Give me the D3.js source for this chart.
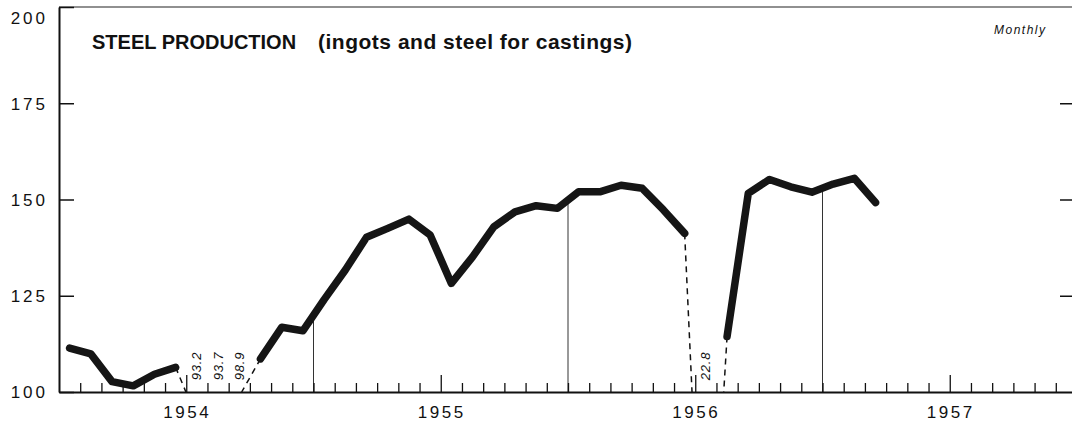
<!DOCTYPE html>
<html>
<head>
<meta charset="utf-8">
<script src="https://cdn.jsdelivr.net/npm/d3@7"></script>
<style>
  body { margin: 0; background: #fff; }
  text { font-family: "Liberation Sans", Arial, sans-serif; fill: #111; }
</style>
</head>
<body>
<svg id="chart"></svg>
<script>
const months = [
  "1954-01", "1954-02", "1954-03", "1954-04", "1954-05", "1954-06",
  "1954-07", "1954-08", "1954-09", "1954-10", "1954-11", "1954-12",
  "1955-01", "1955-02", "1955-03", "1955-04", "1955-05", "1955-06",
  "1955-07", "1955-08", "1955-09", "1955-10", "1955-11", "1955-12",
  "1956-01", "1956-02", "1956-03", "1956-04", "1956-05", "1956-06",
  "1956-07", "1956-08", "1956-09", "1956-10", "1956-11", "1956-12",
  "1957-01", "1957-02", "1957-03"
];
const steel = [
  111.4, 109.9, 102.7, 101.6, 104.6, 106.4,
  93.2, 93.7, 98.9, 108.6, 116.8, 115.9,
  124.0, 131.7, 140.2, 142.5, 144.9, 140.8,
  128.2, 135.1, 142.9, 146.8, 148.4, 147.7,
  152.0, 152.0, 153.7, 152.9, 147.3, 141.2,
  22.8, 114.4, 151.6, 155.2, 153.3, 151.9,
  154.0, 155.5, 149.2
];
const years = ["1954", "1955", "1956", "1957"];
const yTicks = [100, 125, 150, 175, 200];
const sideTicks = [125, 150, 175];
const title = "STEEL PRODUCTION";
const subtitle = "(ingots and steel for castings)";
const freq = "Monthly";

const W = 1072, H = 422;
const mLeft = 59, mRight = 1077, mTop = 7, mBottom = 392;
const floor = 100;

const svg = d3.select("#chart").attr("width", W).attr("height", H);
svg.append("rect").attr("width", W).attr("height", H).attr("fill", "#fff");

// month slots: 0 = Jan 1954 ... 48 = Jan 1958
const x = d3.scaleLinear().domain([0, 48]).range([mLeft, mRight]);
const y = d3.scaleLinear().domain([100, 200]).range([mBottom, mTop]);

const firstYear = +years[0];
const pts = months.map((m, i) => {
  const [yr, mo] = m.split("-").map(Number);
  return { idx: (yr - firstYear) * 12 + mo - 1, v: steel[i] };
});
const px = d => x(d.idx + 0.5);

// top border
svg.append("line")
  .attr("x1", mLeft).attr("x2", W).attr("y1", mTop).attr("y2", mTop)
  .attr("stroke", "#222").attr("stroke-width", 1.2);

// year boundary drop lines up to the curve
for (let b = 12; b < 48; b += 12) {
  for (let i = 0; i < pts.length - 1; i++) {
    const a = pts[i], c = pts[i + 1];
    if (a.idx + 0.5 < b && c.idx + 0.5 > b && a.v >= floor && c.v >= floor) {
      const t = (b - a.idx - 0.5) / (c.idx - a.idx);
      const v = a.v + t * (c.v - a.v);
      svg.append("line")
        .attr("x1", x(b)).attr("x2", x(b))
        .attr("y1", y(floor)).attr("y2", y(v))
        .attr("stroke", "#333").attr("stroke-width", 1);
    }
  }
}

// x axis
const xAxis = d3.axisBottom(x)
  .tickValues(d3.range(1, 48))
  .tickSize(-9)
  .tickSizeOuter(0)
  .tickFormat("");
const gx = svg.append("g")
  .attr("transform", `translate(0, ${mBottom})`)
  .call(xAxis);
gx.select(".domain").attr("stroke", "#111").attr("stroke-width", 2);
gx.selectAll(".tick line")
  .attr("stroke", "#111").attr("stroke-width", 1.3)
  .attr("y2", d => d % 12 === 6 ? -17 : -9);

svg.selectAll(".year")
  .data(years)
  .join("text")
  .attr("class", "year")
  .attr("x", (d, i) => x(i * 12 + 6) + 1)
  .attr("y", 418)
  .attr("text-anchor", "middle")
  .attr("font-size", 17)
  .attr("letter-spacing", 2.5)
  .text(d => d);

// y axis
const yAxis = d3.axisLeft(y)
  .tickValues(yTicks)
  .tickSize(-15)
  .tickSizeOuter(0)
  .tickPadding(11)
  .tickFormat(d3.format("d"));
const gy = svg.append("g")
  .attr("transform", `translate(${mLeft}, 0)`)
  .call(yAxis);
gy.select(".domain").attr("stroke", "#111").attr("stroke-width", 2);
gy.selectAll(".tick line").attr("stroke", "#111").attr("stroke-width", 1.5);
gy.selectAll(".tick text")
  .attr("font-size", 17)
  .attr("letter-spacing", 3)
  .attr("fill", "#111")
  .attr("font-family", "Liberation Sans, Arial, sans-serif")
  .attr("dy", d => d === 200 ? "0.95em" : "0.35em");

const gr = svg.append("g")
  .attr("transform", `translate(${W}, 0)`)
  .call(d3.axisRight(y).tickValues(sideTicks).tickSize(-12).tickFormat(""));
gr.select(".domain").remove();
gr.selectAll(".tick line").attr("stroke", "#111").attr("stroke-width", 1.5);

// dashed links to off-scale months
for (let i = 0; i < pts.length - 1; i++) {
  const a = pts[i], c = pts[i + 1];
  if ((a.v >= floor) !== (c.v >= floor)) {
    const good = a.v >= floor ? a : c;
    const bad = a.v >= floor ? c : a;
    const t = (good.v - floor) / (good.v - bad.v);
    const xc = px(good) + t * (px(bad) - px(good));
    svg.append("line")
      .attr("x1", px(good)).attr("y1", y(good.v))
      .attr("x2", xc).attr("y2", y(floor))
      .attr("stroke", "#111").attr("stroke-width", 1.5)
      .attr("stroke-dasharray", "6,5");
  }
}

// off-scale values written vertically
svg.selectAll(".off")
  .data(pts.filter(d => d.v < floor))
  .join("text")
  .attr("class", "off")
  .attr("transform", d => `translate(${px(d)}, 366) rotate(-90)`)
  .attr("text-anchor", "middle")
  .attr("dy", "0.35em")
  .attr("font-size", 13)
  .attr("font-style", "italic")
  .attr("letter-spacing", 0.8)
  .text(d => d.v.toFixed(1));

// main series
const line = d3.line()
  .defined(d => d.v >= floor)
  .x(px)
  .y(d => y(d.v));

svg.append("path")
  .datum(pts)
  .attr("fill", "none")
  .attr("stroke", "#151515")
  .attr("stroke-width", 7.5)
  .attr("stroke-linejoin", "round")
  .attr("stroke-linecap", "round")
  .attr("d", line);

// titles
const t = svg.append("text").attr("x", 92).attr("y", 49).attr("font-size", 20);
t.append("tspan").attr("font-weight", "bold").text(title);
t.append("tspan")
  .attr("x", 318)
  .attr("font-weight", "bold")
  .attr("font-size", 21)
  .attr("textLength", 314)
  .attr("lengthAdjust", "spacing")
  .text(subtitle);

svg.append("text")
  .attr("x", 994).attr("y", 34)
  .attr("font-size", 12)
  .attr("font-style", "italic")
  .attr("letter-spacing", 1.5)
  .text(freq);
</script>
</body>
</html>
